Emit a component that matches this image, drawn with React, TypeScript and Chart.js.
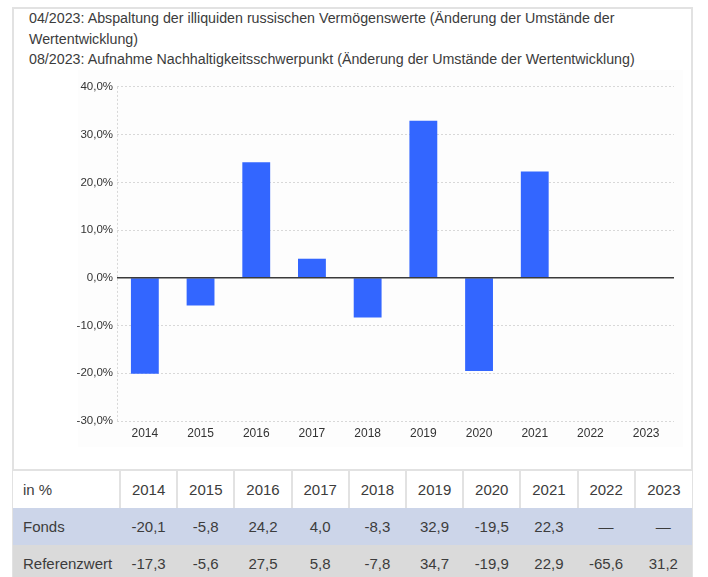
import React, { useEffect, useRef } from "react";
import { Chart, registerables } from "chart.js";

Chart.register(...registerables);

const years = ["2014", "2015", "2016", "2017", "2018", "2019", "2020", "2021", "2022", "2023"];
const fondsValues: (number | null)[] = [-20.1, -5.8, 24.2, 4.0, -8.3, 32.9, -19.5, 22.3, null, null];
const referenzValues: (number | null)[] = [-17.3, -5.6, 27.5, 5.8, -7.8, 34.7, -19.9, 22.9, -65.6, 31.2];
const yMin = -30;
const yMax = 40;
const yStep = 10;
const notes = [
  "04/2023: Abspaltung der illiquiden russischen Vermögenswerte (Änderung der Umstände der Wertentwicklung)",
  "08/2023: Aufnahme Nachhaltigkeitsschwerpunkt (Änderung der Umstände der Wertentwicklung)",
];
const tableHeader = "in %";
const rowLabels = ["Fonds", "Referenzwert"];

const fmt = (v: number | null) => (v === null ? "—" : v.toFixed(1).replace(".", ","));

const FONT = '"Liberation Sans", Arial, Helvetica, sans-serif';

const refLines = {
  id: "refLines",
  beforeDatasetsDraw(chart: any) {
    const { ctx, chartArea } = chart;
    ctx.save();
    ctx.strokeStyle = "#d8d8d8";
    ctx.lineWidth = 1;
    ctx.setLineDash([2, 2]);
    ctx.beginPath();
    const x = Math.round(chartArea.left) + 0.5;
    ctx.moveTo(x, chartArea.top);
    ctx.lineTo(x, chartArea.bottom);
    ctx.stroke();
    ctx.restore();
  },
  afterDatasetsDraw(chart: any) {
    const { ctx, chartArea, scales } = chart;
    const y0 = scales.y.getPixelForValue(0);
    ctx.save();
    ctx.strokeStyle = "#3a3a3a";
    ctx.lineWidth = 1.6;
    ctx.beginPath();
    ctx.moveTo(chartArea.left, y0);
    ctx.lineTo(chartArea.right, y0);
    ctx.stroke();
    ctx.restore();
  },
};

function BarChart() {
  const ref = useRef<HTMLCanvasElement | null>(null);
  useEffect(() => {
    if (!ref.current) return;
    const chart = new Chart(ref.current, {
      type: "bar",
      data: {
        labels: years,
        datasets: [
          {
            label: "Fonds",
            data: fondsValues,
            backgroundColor: "#3366ff",
            borderWidth: 0,
            barPercentage: 0.5,
            categoryPercentage: 1,
          },
        ],
      },
      options: {
        responsive: false,
        animation: false,
        devicePixelRatio: 1,
        layout: { padding: { left: 0, right: 18, top: 10, bottom: 20 } },
        plugins: { legend: { display: false }, tooltip: { enabled: false } },
        scales: {
          x: {
            offset: true,
            grid: { display: false, drawTicks: false },
            border: { display: false },
            ticks: { color: "#333", font: { family: FONT, size: 12 }, padding: 5 },
            afterFit: (s: any) => {
              s.height = 24;
            },
          },
          y: {
            min: yMin,
            max: yMax,
            grid: {
              drawTicks: false,
              color: (c: any) => (c.tick && c.tick.value === 0 ? "rgba(0,0,0,0)" : "#d8d8d8"),
              lineWidth: 1,
            },
            border: { display: false, dash: [2, 2] },
            ticks: {
              stepSize: yStep,
              color: "#333",
              font: { family: FONT, size: 11.5 },
              padding: 4,
              callback: (v: any) => fmt(Number(v)) + "%",
            },
            afterFit: (s: any) => {
              s.width = 104;
            },
          },
        },
      },
      plugins: [refLines],
    });
    return () => chart.destroy();
  }, []);
  return (
    <canvas
      ref={ref}
      width={679}
      height={389}
      style={{ position: "absolute", left: 13, top: 76, width: 679, height: 389 }}
    />
  );
}

export default function App() {
  const colW = 572 / years.length;
  const cellBase: React.CSSProperties = {
    padding: 0,
    height: 37,
    fontFamily: FONT,
    fontSize: 15,
    color: "#3c3c3c",
    textAlign: "center",
    verticalAlign: "middle",
    whiteSpace: "nowrap",
  };
  return (
    <div style={{ position: "fixed", left: 0, top: 0, width: 708, height: 577, overflow: "hidden", background: "#fff" }}>
      <div
        style={{
          position: "absolute",
          left: 12,
          top: 7,
          width: 681,
          height: 600,
          border: "2px solid #e2e2e2",
          boxSizing: "border-box",
        }}
      />
      <div
        style={{
          position: "absolute",
          left: 29,
          top: 8,
          width: 632,
          fontFamily: FONT,
          fontSize: 14.25,
          lineHeight: "20.5px",
          color: "#3c3c3c",
        }}
      >
        {notes.map((n, i) => (
          <div key={i}>{n}</div>
        ))}
      </div>
      <div style={{ position: "absolute", left: 78, top: 70, width: 605, height: 377, background: "#fdfdfd" }} />
      <BarChart />
      <table
        style={{
          position: "absolute",
          left: 13,
          top: 469,
          width: 679,
          borderCollapse: "collapse",
          tableLayout: "fixed",
        }}
      >
        <colgroup>
          <col style={{ width: 107 }} />
          {years.map((y) => (
            <col key={y} style={{ width: colW }} />
          ))}
        </colgroup>
        <tbody>
          <tr style={{ background: "#fff" }}>
            <td style={{ ...cellBase, textAlign: "left", paddingLeft: 10, borderTop: "2px solid #e2e2e2", borderRight: "2px solid #e2e2e2" }}>
              {tableHeader}
            </td>
            {years.map((y, i) => (
              <td
                key={y}
                style={{
                  ...cellBase,
                  borderTop: "2px solid #e2e2e2",
                  borderRight: i < years.length - 1 ? "2px solid #e2e2e2" : "none",
                }}
              >
                {y}
              </td>
            ))}
          </tr>
          <tr style={{ background: "#ccd5e9" }}>
            <td style={{ ...cellBase, textAlign: "left", paddingLeft: 10 }}>{rowLabels[0]}</td>
            {fondsValues.map((v, i) => (
              <td key={i} style={cellBase}>
                {fmt(v)}
              </td>
            ))}
          </tr>
          <tr style={{ background: "#dadada" }}>
            <td style={{ ...cellBase, textAlign: "left", paddingLeft: 10 }}>{rowLabels[1]}</td>
            {referenzValues.map((v, i) => (
              <td key={i} style={cellBase}>
                {fmt(v)}
              </td>
            ))}
          </tr>
        </tbody>
      </table>
    </div>
  );
}
